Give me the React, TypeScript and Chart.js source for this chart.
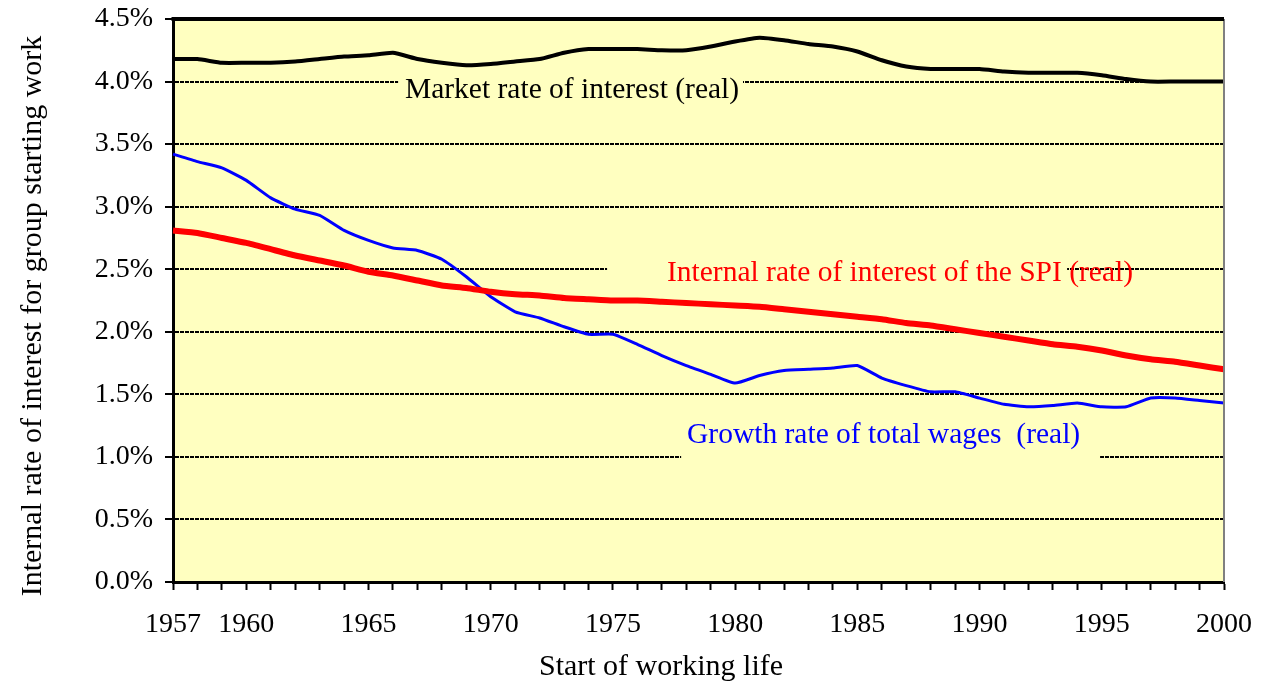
import React, { useEffect, useRef } from 'react';
import { Chart, registerables } from 'chart.js';

Chart.register(...registerables);

const years = [
  '1957', '1958', '1959', '1960', '1961', '1962', '1963', '1964', '1965', '1966',
  '1967', '1968', '1969', '1970', '1971', '1972', '1973', '1974', '1975', '1976',
  '1977', '1978', '1979', '1980', '1981', '1982', '1983', '1984', '1985', '1986',
  '1987', '1988', '1989', '1990', '1991', '1992', '1993', '1994', '1995', '1996',
  '1997', '1998', '1999', '2000',
];

const tickYears = ['1957', '1960', '1965', '1970', '1975', '1980', '1985', '1990', '1995', '2000'];

const marketRate = [
  4.18, 4.18, 4.15, 4.15, 4.15, 4.16, 4.18, 4.20, 4.21, 4.23,
  4.18, 4.15, 4.13, 4.14, 4.16, 4.18, 4.23, 4.26, 4.26, 4.26,
  4.25, 4.25, 4.28, 4.32, 4.35, 4.33, 4.30, 4.28, 4.24, 4.17,
  4.12, 4.10, 4.10, 4.10, 4.08, 4.07, 4.07, 4.07, 4.05, 4.02,
  4.00, 4.00, 4.00, 4.00,
];

const spiRate = [
  2.81, 2.79, 2.75, 2.71, 2.66, 2.61, 2.57, 2.53, 2.48, 2.45,
  2.41, 2.37, 2.35, 2.32, 2.30, 2.29, 2.27, 2.26, 2.25, 2.25,
  2.24, 2.23, 2.22, 2.21, 2.20, 2.18, 2.16, 2.14, 2.12, 2.10,
  2.07, 2.05, 2.02, 1.99, 1.96, 1.93, 1.90, 1.88, 1.85, 1.81,
  1.78, 1.76, 1.73, 1.70,
];

const wageGrowth = [
  3.42, 3.36, 3.31, 3.21, 3.07, 2.98, 2.93, 2.81, 2.73, 2.67,
  2.65, 2.58, 2.44, 2.28, 2.16, 2.11, 2.04, 1.98, 1.98, 1.90,
  1.81, 1.73, 1.66, 1.59, 1.65, 1.69, 1.70, 1.71, 1.73, 1.63,
  1.57, 1.52, 1.52, 1.47, 1.42, 1.40, 1.41, 1.43, 1.40, 1.40,
  1.47, 1.47, 1.45, 1.43,
];

const seriesNames = [
  'Market rate of interest (real)',
  'Internal rate of interest of the SPI (real)',
  'Growth rate of total wages  (real)',
];

const xTitle = 'Start of working life';
const yTitle = 'Internal rate of interest for group starting work';

const FONT = '"Liberation Serif", "Times New Roman", serif';
const PLOT_BG = '#FFFFC0';

// in-chart labels, positioned in data space (x = year index, y = percent)
const notes = [
  { text: seriesNames[0], color: '#000000', x: 9.49, y: 3.933, box: [9.21, 23.32, 4.03, 3.975] },
  { text: seriesNames[1], color: '#FF0000', x: 20.21, y: 2.47, box: [17.76, 36.58, 2.53, 2.475] },
  { text: seriesNames[2], color: '#0000FF', x: 21.03, y: 1.175, box: [20.79, 37.93, 1.03, 0.98] },
];

const framePlugin = {
  id: 'frame',
  beforeDraw(chart: any) {
    const { ctx, chartArea } = chart;
    ctx.save();
    ctx.fillStyle = PLOT_BG;
    ctx.fillRect(chartArea.left, chartArea.top, chartArea.right - chartArea.left, chartArea.bottom - chartArea.top);
    ctx.restore();
  },
  beforeDatasetsDraw(chart: any) {
    const { ctx } = chart;
    const xs = chart.scales.x;
    const ys = chart.scales.y;
    ctx.save();
    for (const n of notes) {
      const x0 = xs.getPixelForValue(n.box[0]);
      const x1 = xs.getPixelForValue(n.box[1]);
      const y0 = ys.getPixelForValue(n.box[2]);
      const y1 = ys.getPixelForValue(n.box[3]);
      ctx.fillStyle = PLOT_BG;
      ctx.fillRect(x0, y0, x1 - x0, y1 - y0);
    }
    ctx.font = `29.5px ${FONT}`;
    ctx.textBaseline = 'middle';
    ctx.textAlign = 'left';
    for (const n of notes) {
      ctx.fillStyle = n.color;
      ctx.fillText(n.text, xs.getPixelForValue(n.x), ys.getPixelForValue(n.y));
    }
    ctx.restore();
  },
  afterDraw(chart: any) {
    const { ctx, chartArea } = chart;
    ctx.save();
    ctx.strokeStyle = '#808080';
    ctx.lineWidth = 2;
    ctx.beginPath();
    ctx.moveTo(chartArea.right, chartArea.top);
    ctx.lineTo(chartArea.right, chartArea.bottom);
    ctx.stroke();
    ctx.strokeStyle = '#000000';
    ctx.lineWidth = 4;
    ctx.beginPath();
    ctx.moveTo(chartArea.left - 1.5, chartArea.top);
    ctx.lineTo(chartArea.right, chartArea.top);
    ctx.stroke();

    // axis titles
    ctx.fillStyle = '#000000';
    ctx.font = `30px ${FONT}`;
    ctx.textAlign = 'center';
    ctx.textBaseline = 'middle';
    ctx.fillText(xTitle, chartArea.left + 488, chartArea.bottom + 85);
    ctx.translate(33, chartArea.top + 297);
    ctx.rotate(-Math.PI / 2);
    ctx.fillText(yTitle, 0, 0);
    ctx.restore();
  },
};

export default function App() {
  const canvasRef = useRef<HTMLCanvasElement | null>(null);

  useEffect(() => {
    document.body.style.margin = '0';
    const canvas = canvasRef.current;
    if (!canvas) return;
    Chart.defaults.font.family = FONT;
    const chart = new Chart(canvas, {
      type: 'line',
      data: {
        labels: years,
        datasets: [
          {
            label: seriesNames[0],
            data: marketRate,
            borderColor: '#000000',
            borderWidth: 4,
            pointRadius: 0,
            tension: 0.15,
            fill: false,
          },
          {
            label: seriesNames[1],
            data: spiRate,
            borderColor: '#FF0000',
            borderWidth: 6,
            pointRadius: 0,
            tension: 0.15,
            fill: false,
          },
          {
            label: seriesNames[2],
            data: wageGrowth,
            borderColor: '#0000FF',
            borderWidth: 3,
            pointRadius: 0,
            tension: 0.15,
            fill: false,
          },
        ],
      },
      options: {
        responsive: false,
        animation: false,
        maintainAspectRatio: false,
        layout: { padding: { top: 19, right: 41, left: 0, bottom: 0 } },
        plugins: {
          legend: { display: false },
          title: { display: false },
          tooltip: { enabled: false },
        },
        scales: {
          x: {
            type: 'category',
            offset: false,
            afterFit(scale: any) {
              scale.height = 99;
              scale.paddingLeft = 0;
              scale.paddingRight = 0;
            },
            grid: {
              display: true,
              drawOnChartArea: false,
              drawTicks: true,
              tickLength: 8,
              tickWidth: 2,
              tickColor: '#000000',
              color: '#000000',
            },
            border: { display: true, color: '#000000', width: 3 },
            ticks: {
              autoSkip: false,
              maxRotation: 0,
              minRotation: 0,
              padding: 18,
              color: '#000000',
              font: { family: FONT, size: 28 },
              callback(value: any, index: number) {
                const y = years[index];
                return tickYears.includes(y) ? y : '';
              },
            },
            title: { display: false },
          },
          y: {
            min: 0,
            max: 4.5,
            afterFit(scale: any) {
              scale.width = 173;
              scale.paddingTop = 0;
              scale.paddingBottom = 0;
            },
            grid: {
              display: true,
              drawOnChartArea: true,
              drawTicks: true,
              tickLength: 8,
              tickWidth: 2,
              tickColor: '#000000',
              tickBorderDash: [],
              color: '#000000',
              lineWidth: 2,
            } as any,
            border: { display: true, color: '#000000', width: 3, dash: [4, 1] },
            ticks: {
              stepSize: 0.5,
              padding: 12,
              color: '#000000',
              font: { family: FONT, size: 28 },
              callback(value: any) {
                return Number(value).toFixed(1) + '%';
              },
            },
            title: { display: false },
          },
        },
      },
      plugins: [framePlugin],
    });
    return () => {
      chart.destroy();
    };
  }, []);

  return (
    <div style={{ width: 1265, height: 681, position: 'relative' }}>
      <canvas ref={canvasRef} width={1265} height={681} style={{ display: 'block', width: 1265, height: 681 }} />
    </div>
  );
}
